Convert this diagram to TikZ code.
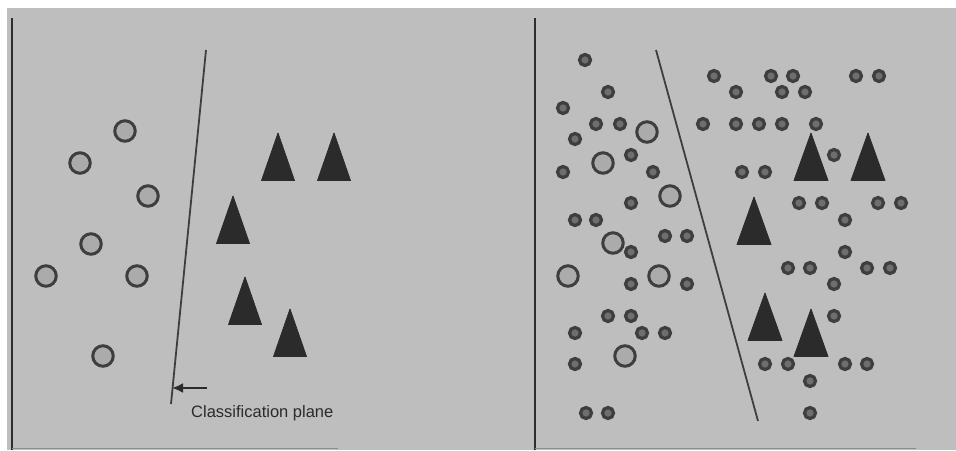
\documentclass[tikz,border=0pt]{standalone}
\usepackage{fontspec}
\setmainfont{Liberation Sans}
\usetikzlibrary{arrows.meta}

\definecolor{panelbg}{HTML}{BEBEBE}
\definecolor{inkdark}{HTML}{2B2B2B}
\definecolor{ringdark}{HTML}{3E3E3E}
\definecolor{bigfill}{HTML}{ABABAB}
\definecolor{smallfill}{HTML}{6E6E6E}
\definecolor{axisgray}{HTML}{2E2E2E}

\tikzset{
  bigdot/.style={circle, draw=ringdark, fill=bigfill, line width=3pt,
                 minimum size=20.5pt, inner sep=0pt},
  smalldot/.style={circle, draw=ringdark, fill=smallfill, line width=3.2pt,
                   minimum size=11pt, inner sep=0pt},
  tri/.style={fill=inkdark, draw=inkdark, line width=0.8pt, line join=round},
  axisline/.style={draw=axisgray, line width=2.8pt},
  planeline/.style={draw=ringdark, line width=1.8pt},
  baseline/.style={draw=black!45, line width=1pt},
  lbl/.style={font=\fontsize{16.5}{18}\selectfont, text=inkdark, inner sep=0pt}
}

\begin{document}
\begin{tikzpicture}[x=1pt,y=-1pt]
  % page and panel background
  \useasboundingbox (0,0) rectangle (956,450);
  \fill[white] (0,0) rectangle (956,450);
  \fill[panelbg] (7,8) rectangle (956,450);

  % ---------- left panel ----------
  \coordinate (laxT) at (12,18);
  \coordinate (laxB) at (12,450);
  \draw[axisline] (laxT) -- (laxB);
  \coordinate (lbaseA) at (12,448.5);
  \coordinate (lbaseB) at (338,448.5);
  \draw[baseline] (lbaseA) -- (lbaseB);

  % separating line
  \coordinate (lplT) at (206,50);
  \coordinate (lplB) at (171,404);
  \draw[planeline] (lplT) -- (lplB);

  % class A: circles
  \foreach \x/\y [count=\i] in {125/131, 80/163, 148/196, 91/244, 46/276, 137/276, 103/356}
    \node[bigdot] (lc\i) at (\x,\y) {};

  % class B: triangles (apex given)
  \foreach \x/\y in {278/133, 334/133, 233/196, 245/277, 290/309}
    \path[tri] (\x,\y) -- ++(-16.5,47.5) -- ++(33,0) -- cycle;

  % label with arrow pointing to the separating line
  \coordinate (arrTail) at (207,388);
  \coordinate (arrTip) at (172,388);
  \draw[draw=inkdark, line width=2.2pt, -{Latex[length=11pt,width=10pt]}] (arrTail) -- (arrTip);
  \node[lbl, anchor=west] (plane) at (191,413) {Classification plane};

  % ---------- right panel ----------
  \coordinate (raxT) at (535,18);
  \coordinate (raxB) at (535,450);
  \draw[axisline, line width=2.2pt] (raxT) -- (raxB);
  \coordinate (rbaseA) at (535,448.5);
  \coordinate (rbaseB) at (916,448.5);
  \draw[baseline] (rbaseA) -- (rbaseB);

  \coordinate (rplT) at (656,50);
  \coordinate (rplB) at (758,421);
  \draw[planeline] (rplT) -- (rplB);

  % large circles
  \foreach \x/\y [count=\i] in {647/132, 603/163, 670/196, 613/243, 568/276, 659/276, 625/356}
    \node[bigdot] (rc\i) at (\x,\y) {};

  % small circles, left of the line
  \foreach \x/\y [count=\i] in {
      585/60, 608/92, 563/108, 596/124, 620/124, 575/139, 631/155,
      563/172, 653/172, 631/203, 575/220, 596/220, 665/236, 687/236,
      631/252, 631/284, 687/284, 608/316, 631/316, 642/333, 665/333,
      575/333, 575/364, 586/413, 608/413}
    \node[smalldot] (rs\i) at (\x,\y) {};

  % small circles, right of the line
  \foreach \x/\y [count=\i] in {
      714/76, 736/92, 771/76, 793/76, 782/92, 805/92, 856/76, 879/76,
      703/124, 736/124, 759/124, 782/124, 816/124, 834/155, 742/172,
      765/172, 799/203, 822/203, 845/220, 878/203, 901/203, 845/252,
      788/268, 810/268, 834/284, 867/268, 890/268, 834/316, 765/364,
      788/364, 845/364, 867/364, 810/381, 810/413}
    \node[smalldot] (rt\i) at (\x,\y) {};

  % triangles
  \foreach \x/\y in {811/133, 868/133, 754/197, 765/293, 811/309}
    \path[tri] (\x,\y) -- ++(-17,47.5) -- ++(34,0) -- cycle;
\end{tikzpicture}
\end{document}
